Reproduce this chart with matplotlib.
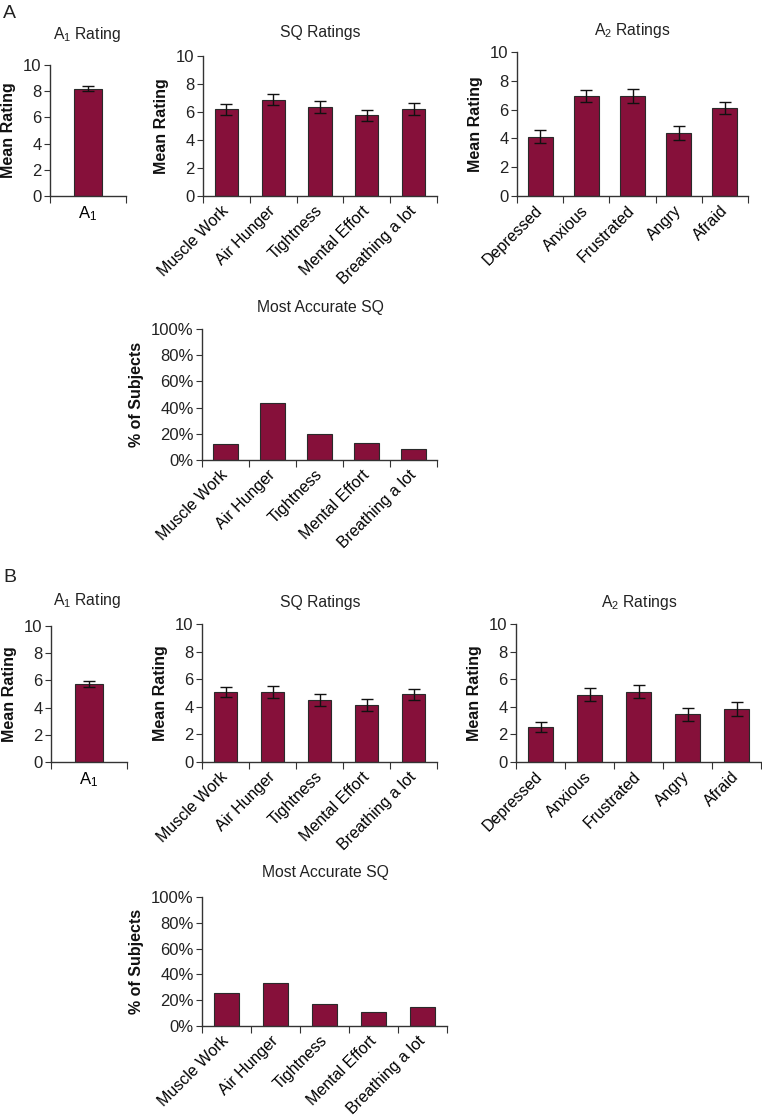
import numpy as np
import matplotlib
matplotlib.use("Agg")
import matplotlib.pyplot as plt
from matplotlib.ticker import FixedLocator, FuncFormatter

plt.rcParams['font.family'] = ['Liberation Sans', 'DejaVu Sans']
plt.rcParams['mathtext.default'] = 'regular'
plt.rcParams['text.color'] = '#222222'
plt.rcParams['axes.labelcolor'] = '#111111'

# data
sq_labels = ["Muscle Work", "Air Hunger", "Tightness", "Mental Effort", "Breathing a lot"]
a2_labels = ["Depressed", "Anxious", "Frustrated", "Angry", "Afraid"]
a1_labels = ["A$_1$"]

a_a1 = [8.2]
a_a1_err = [0.2]
a_sq = [6.18, 6.88, 6.36, 5.76, 6.21]
a_sq_err = [0.40, 0.38, 0.42, 0.40, 0.42]
a_a2 = [4.10, 6.92, 6.95, 4.40, 6.10]
a_a2_err = [0.45, 0.41, 0.46, 0.48, 0.44]
a_best = [12.5, 43.6, 19.6, 13.3, 8.7]

b_a1 = [5.77]
b_a1_err = [0.22]
b_sq = [5.06, 5.08, 4.48, 4.14, 4.90]
b_sq_err = [0.38, 0.42, 0.42, 0.42, 0.42]
b_a2 = [2.55, 4.87, 5.08, 3.45, 3.85]
b_a2_err = [0.38, 0.47, 0.47, 0.47, 0.50]
b_best = [25.3, 33.3, 17.3, 10.9, 14.7]

W, H = 762, 1118
BAR = '#86103A'
EDGE = '#2a2a2a'
SPINE = '#333333'

fig = plt.figure(figsize=(W / 100, H / 100), dpi=100)


def add_axes(x0, x1, ytop, ybot):
    return fig.add_axes([x0 / W, 1 - ybot / H, (x1 - x0) / W, (ybot - ytop) / H])


def bar_panel(ax, labels, vals, errs, ylabel, pct=False, width=0.5, rotate=True):
    n = len(labels)
    x = np.arange(n) + 0.5
    ax.bar(x, vals, width=width, color=BAR, edgecolor=EDGE, linewidth=0.8, zorder=2)
    if errs is not None:
        ax.errorbar(x, vals, yerr=errs, fmt='none', ecolor='#111111', elinewidth=1,
                    capsize=4, capthick=1, zorder=3)
    ax.set_xlim(0, n)
    top = 100 if pct else 10
    ax.set_ylim(0, top)
    ax.set_yticks(np.linspace(0, top, 6))
    if pct:
        ax.yaxis.set_major_formatter(FuncFormatter(lambda v, p: f"{v:.0f}%"))
    for s in ['top', 'right']:
        ax.spines[s].set_visible(False)
    for s in ['left', 'bottom']:
        ax.spines[s].set_color(SPINE)
        ax.spines[s].set_linewidth(1)
    ax.xaxis.set_major_locator(FixedLocator(np.arange(n + 1)))
    ax.xaxis.set_major_formatter(FuncFormatter(lambda v, p: ""))
    ax.xaxis.set_minor_locator(FixedLocator(x))
    ax.tick_params(axis='x', which='major', direction='out', length=5, color=SPINE)
    ax.tick_params(axis='x', which='minor', length=0, pad=6)
    ax.tick_params(axis='y', direction='out', length=4, color=SPINE, labelsize=12,
                   labelcolor='#222222', pad=2)
    if rotate:
        ax.set_xticks(x, labels, minor=True, rotation=45, ha='right', va='center',
                      rotation_mode='anchor', fontsize=11.5)
        ax.tick_params(axis='x', which='minor', pad=9)
    else:
        ax.set_xticks(x, labels, minor=True, fontsize=12)
    ax.set_ylabel(ylabel, fontsize=11.5, fontweight='bold', labelpad=5)
    ax.patch.set_visible(False)


def title(x, y, s):
    fig.text(x / W, 1 - y / H, s, ha='center', va='center', fontsize=11.3)


# panel A
ax = add_axes(50, 126, 65, 196)
bar_panel(ax, a1_labels, a_a1, a_a1_err, "Mean Rating", width=0.38, rotate=False)
title(87, 35, "A$_1$ Rating")

ax = add_axes(203, 437, 56, 196)
bar_panel(ax, sq_labels, a_sq, a_sq_err, "Mean Rating")
title(320, 33, "SQ Ratings")

ax = add_axes(517, 748, 52, 196)
bar_panel(ax, a2_labels, a_a2, a_a2_err, "Mean Rating", width=0.54)
title(632, 31, "A$_2$ Ratings")

ax = add_axes(202, 437, 329, 460)
bar_panel(ax, sq_labels, a_best, None, "% of Subjects", pct=True, width=0.52)
title(320, 307, "Most Accurate SQ")

# panel B
ax = add_axes(51, 127, 626, 762)
bar_panel(ax, a1_labels, b_a1, b_a1_err, "Mean Rating", width=0.38, rotate=False)
title(87, 601, "A$_1$ Rating")

ax = add_axes(202, 437, 624, 762)
bar_panel(ax, sq_labels, b_sq, b_sq_err, "Mean Rating")
title(320, 603, "SQ Ratings")

ax = add_axes(516, 761, 624, 762)
bar_panel(ax, a2_labels, b_a2, b_a2_err, "Mean Rating", width=0.5)
title(639, 603, "A$_2$ Ratings")

ax = add_axes(202, 447, 897, 1026)
bar_panel(ax, sq_labels, b_best, None, "% of Subjects", pct=True, width=0.5)
title(325, 873, "Most Accurate SQ")

fig.text(3 / W, 1 - 13 / H, "A", fontsize=14, va='center', ha='left')
fig.text(3 / W, 1 - 578 / H, "B", fontsize=14, va='center', ha='left')

fig.savefig("out.png", dpi=100, facecolor='white')
